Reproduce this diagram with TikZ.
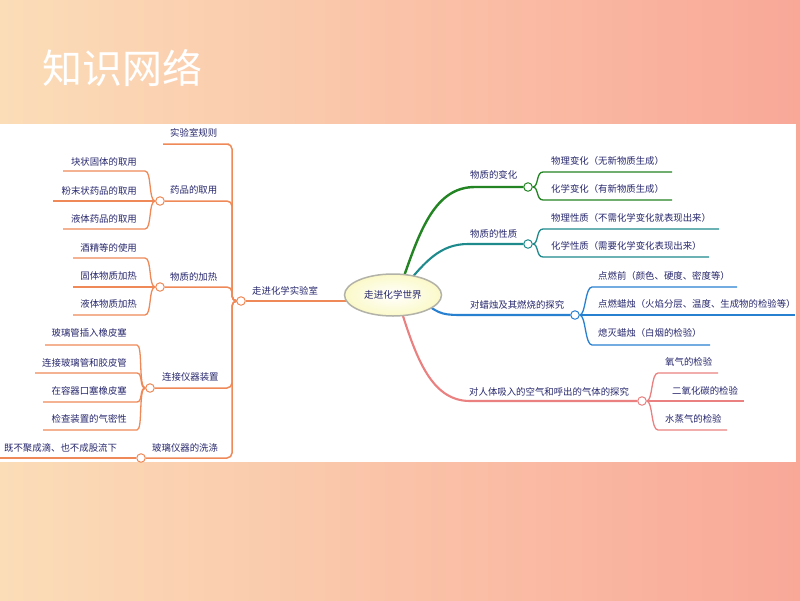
\documentclass[tikz,border=0pt]{standalone}
\usepackage{fontspec}
\newfontfamily\cjk{Noto Sans CJK SC}
\usetikzlibrary{shapes.geometric}
\pgfdeclarelayer{back}
\pgfdeclarelayer{conn}
\pgfsetlayers{back,conn,main}
\definecolor{bgl}{RGB}{251,221,184}
\definecolor{bgr}{RGB}{249,168,152}
\definecolor{orng}{RGB}{239,138,88}
\definecolor{grn}{RGB}{34,132,34}
\definecolor{tealc}{RGB}{30,138,140}
\definecolor{blu}{RGB}{40,128,208}
\definecolor{pnk}{RGB}{234,128,128}
\definecolor{navy}{RGB}{40,40,110}
\definecolor{ellyel}{RGB}{251,249,200}
\definecolor{ellgr}{RGB}{178,178,168}
\begin{document}
\begin{tikzpicture}[x=1pt,y=-1pt,
  txt/.style={font=\cjk\fontsize{9.4}{11}\selectfont, text=navy, inner sep=0pt},
  dot/.style={circle, draw=#1, fill=white, line width=1pt, minimum size=8.5pt, inner sep=0pt},
  br/.style={draw=#1, line width=1.3pt},
  mainbr/.style={draw=#1, line width=2.1pt},
  trunk/.style={draw=orng, line width=1.5pt, rounded corners=5pt}]
\useasboundingbox (0,0) rectangle (800,600);
\begin{pgfonlayer}{back}
\shade[left color=bgl, right color=bgr] (0,0) rectangle (800,600);
\fill[white] (0,124) rectangle (796,462);
\end{pgfonlayer}
% title
\node[anchor=west, text=white, font=\cjk\fontsize{40}{40}\selectfont, inner sep=0pt] (title) at (42,68) {知识网络};
% centre
\node[ellipse, draw=ellgr, line width=1.5pt, inner color=white, outer color=ellyel,
  minimum width=97pt, minimum height=42pt, inner sep=0pt, font=\cjk\fontsize{9.6}{11}\selectfont, text=navy] (W) at (393,295) {走进化学世界};
% ---------- left side ----------
\node[dot=orng] (L) at (241,301) {};
\node[txt, anchor=west] (Llab) at (252,291) {走进化学实验室};
\node[dot=orng] (Y) at (160,201) {};
\node[dot=orng] (H) at (160,287) {};
\node[dot=orng] (C) at (150,388) {};
\node[dot=orng] (X) at (141,458) {};
\coordinate (jn) at (232,301);
\coordinate (r1a) at (224,144); \coordinate (r1b) at (163,144);
\node[txt, anchor=west] (r1) at (170,133) {实验室规则};
\node[txt, anchor=west] (ylab) at (170,190) {药品的取用};
\node[txt, anchor=west] (hlab) at (170,277) {物质的加热};
\node[txt, anchor=west] (clab) at (162,377) {连接仪器装置};
\node[txt, anchor=west] (xlab) at (152,448) {玻璃仪器的洗涤};
% children texts left
\node[txt, anchor=east] (y1) at (137,162) {块状固体的取用};
\node[txt, anchor=east] (y2) at (137,191) {粉末状药品的取用};
\node[txt, anchor=east] (y3) at (137,219) {液体药品的取用};
\node[txt, anchor=east] (h1) at (137,248) {酒精等的使用};
\node[txt, anchor=east] (h2) at (137,276) {固体物质加热};
\node[txt, anchor=east] (h3) at (137,304) {液体物质加热};
\node[txt, anchor=east] (c1) at (127,333) {玻璃管插入橡皮塞};
\node[txt, anchor=east] (c2) at (127,363) {连接玻璃管和胶皮管};
\node[txt, anchor=east] (c3) at (127,391) {在容器口塞橡皮塞};
\node[txt, anchor=east] (c4) at (127,419) {检查装置的气密性};
\node[txt, anchor=west] (x1) at (4,448) {既不聚成滴、也不成股流下};
\coordinate (y1s) at (145,171); \coordinate (y1e) at (63,171);
\coordinate (y2e) at (53,201);
\coordinate (y3s) at (145,229); \coordinate (y3e) at (63,229);
\coordinate (h1s) at (145,258); \coordinate (h1e) at (73,258);
\coordinate (h2e) at (73,287);
\coordinate (h3s) at (145,315); \coordinate (h3e) at (73,315);
\coordinate (c1s) at (137,345); \coordinate (c1e) at (45,345);
\coordinate (c2s) at (137,373); \coordinate (c2e) at (35,373);
\coordinate (c3s) at (137,402); \coordinate (c3e) at (43,402);
\coordinate (c4s) at (137,430); \coordinate (c4e) at (43,430);
\coordinate (x1e) at (0,458);
% ---------- right side ----------
\node[dot=grn] (G) at (528,187) {};
\node[dot=tealc] (T) at (528,244) {};
\node[dot=blu] (B) at (575,315) {};
\node[dot=pnk] (P) at (642,401) {};
\node[txt, anchor=west] (glab) at (470,175) {物质的变化};
\node[txt, anchor=west] (tlab) at (470,234) {物质的性质};
\node[txt, anchor=west] (blab) at (470,305) {对蜡烛及其燃烧的探究};
\node[txt, anchor=west] (plab) at (469,392) {对人体吸入的空气和呼出的气体的探究};
\node[txt, anchor=west] (g1) at (551,161) {物理变化（无新物质生成）};
\node[txt, anchor=west] (g2) at (551,189) {化学变化（有新物质生成）};
\node[txt, anchor=west] (t1) at (551,218) {物理性质（不需化学变化就表现出来）};
\node[txt, anchor=west] (t2) at (551,246) {化学性质（需要化学变化表现出来）};
\node[txt, anchor=west] (b1) at (598,276) {点燃前（颜色、硬度、密度等）};
\node[txt, anchor=west] (b2) at (598,304) {点燃蜡烛（火焰分层、温度、生成物的检验等）};
\node[txt, anchor=west] (b3) at (598,333) {熄灭蜡烛（白烟的检验）};
\node[txt, anchor=west] (p1) at (665,362) {氧气的检验};
\node[txt, anchor=west] (p2) at (672,391) {二氧化碳的检验};
\node[txt, anchor=west] (p3) at (665,419) {水蒸气的检验};
\coordinate (g0) at (402,282); \coordinate (g0b) at (475,187);
\coordinate (t0) at (405,286); \coordinate (t0b) at (468,244);
\coordinate (b0) at (425,303); \coordinate (b0b) at (465,315);
\coordinate (p0) at (398,300); \coordinate (p0b) at (470,401);
\coordinate (g1s) at (543,172); \coordinate (g1e) at (672,172);
\coordinate (g2s) at (543,200); \coordinate (g2e) at (672,200);
\coordinate (t1s) at (543,229); \coordinate (t1e) at (719,229);
\coordinate (t2s) at (543,257); \coordinate (t2e) at (709,257);
\coordinate (b1s) at (592,287); \coordinate (b1e) at (737,287);
\coordinate (b2e) at (795,315);
\coordinate (b3s) at (592,345); \coordinate (b3e) at (710,345);
\coordinate (p1s) at (658,373); \coordinate (p1e) at (718,373);
\coordinate (p2e) at (744,401);
\coordinate (p3s) at (658,430); \coordinate (p3e) at (727,430);
% ---------- connectors ----------
\begin{pgfonlayer}{conn}
\draw[draw=orng, line width=1.8pt] (L.east) -- (L.east -| W.center);
\draw[trunk] (L.west) -- (jn) -- (232,144) -- (r1a) -- (r1b);
\draw[trunk] (L.west) -- (jn) -- (232,201) -- (Y.east);
\draw[trunk] (L.west) -- (jn) -- (232,287) -- (H.east);
\draw[trunk] (L.west) -- (jn) -- (232,388) -- (C.east);
\draw[trunk] (L.west) -- (jn) -- (232,458) -- (X.east);
\draw[br=orng] (Y.west) .. controls +(-7,0) and +(7,0) .. (y1s) -- (y1e);
\draw[br=orng] (Y.west) -- (y2e);
\draw[br=orng] (Y.west) .. controls +(-7,0) and +(7,0) .. (y3s) -- (y3e);
\draw[br=orng] (H.west) .. controls +(-7,0) and +(7,0) .. (h1s) -- (h1e);
\draw[br=orng] (H.west) -- (h2e);
\draw[br=orng] (H.west) .. controls +(-7,0) and +(7,0) .. (h3s) -- (h3e);
\draw[br=orng] (C.west) .. controls +(-7,0) and +(6,0) .. (c1s) -- (c1e);
\draw[br=orng] (C.west) .. controls +(-6,0) and +(6,0) .. (c2s) -- (c2e);
\draw[br=orng] (C.west) .. controls +(-6,0) and +(6,0) .. (c3s) -- (c3e);
\draw[br=orng] (C.west) .. controls +(-7,0) and +(6,0) .. (c4s) -- (c4e);
\draw[br=orng] (X.west) -- (x1e);
% right main branches
\draw[mainbr=grn, line width=2.4pt] (g0) .. controls (420,230) and (435,187) .. (g0b) -- (G.west);
\draw[mainbr=tealc] (t0) .. controls (425,262) and (440,244) .. (t0b) -- (T.west);
\draw[mainbr=blu] (b0) .. controls (440,315) and (445,315) .. (b0b) -- (B.west);
\draw[mainbr=pnk] (p0) .. controls (415,355) and (430,401) .. (p0b) -- (P.west);
\draw[br=grn] (G.east) .. controls +(6,0) and +(-7,0) .. (g1s) -- (g1e);
\draw[br=grn] (G.east) .. controls +(6,0) and +(-7,0) .. (g2s) -- (g2e);
\draw[br=tealc] (T.east) .. controls +(6,0) and +(-7,0) .. (t1s) -- (t1e);
\draw[br=tealc] (T.east) .. controls +(6,0) and +(-7,0) .. (t2s) -- (t2e);
\draw[br=blu] (B.east) .. controls +(6,0) and +(-7,0) .. (b1s) -- (b1e);
\draw[br=blu] (B.east) -- (b2e);
\draw[br=blu] (B.east) .. controls +(6,0) and +(-7,0) .. (b3s) -- (b3e);
\draw[br=pnk] (P.east) .. controls +(6,0) and +(-7,0) .. (p1s) -- (p1e);
\draw[br=pnk] (P.east) -- (p2e);
\draw[br=pnk] (P.east) .. controls +(6,0) and +(-7,0) .. (p3s) -- (p3e);
\end{pgfonlayer}
\end{tikzpicture}
\end{document}
